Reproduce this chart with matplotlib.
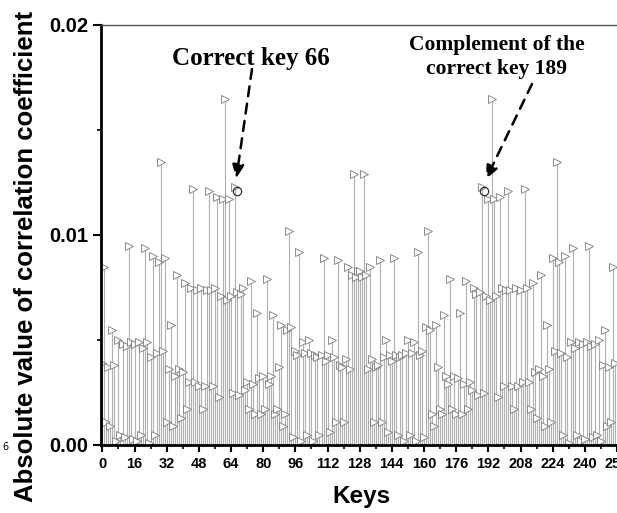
import numpy as np
import matplotlib
matplotlib.use('Agg')
import matplotlib.pyplot as plt

# absolute correlation per key guess (0..255)
keys = np.arange(256)
corr = [
    0.0039, 0.0085, 0.0011, 0.0037, 0.0009, 0.0055, 0.0038, 0.0002,
    0.0050, 0.0005, 0.0048, 0.0004, 0.0047, 0.0095, 0.0049, 0.0003,
    0.0048, 0.0002, 0.0049, 0.0005, 0.0046, 0.0094, 0.0049, 0.0001,
    0.0042, 0.0090, 0.0005, 0.0044, 0.0087, 0.0135, 0.0045, 0.0089,
    0.0011, 0.0036, 0.0057, 0.0009, 0.0033, 0.0081, 0.0036, 0.0013,
    0.0035, 0.0077, 0.0017, 0.0030, 0.0075, 0.0122, 0.0030, 0.0074,
    0.0028, 0.0075, 0.0017, 0.0028, 0.0074, 0.0121, 0.0074, 0.0028,
    0.0075, 0.0118, 0.0023, 0.0071, 0.0117, 0.0165, 0.0069, 0.0117,
    0.0071, 0.0025, 0.0123, 0.0073, 0.0024, 0.0072, 0.0075, 0.0026,
    0.0030, 0.0017, 0.0078, 0.0029, 0.0015, 0.0063, 0.0032, 0.0015,
    0.0033, 0.0017, 0.0079, 0.0029, 0.0033, 0.0062, 0.0015, 0.0017,
    0.0037, 0.0057, 0.0009, 0.0015, 0.0055, 0.0102, 0.0056, 0.0004,
    0.0045, 0.0043, 0.0092, 0.0002, 0.0049, 0.0044, 0.0005, 0.0050,
    0.0044, 0.0002, 0.0043, 0.0042, 0.0005, 0.0043, 0.0089, 0.0040,
    0.0043, 0.0006, 0.0050, 0.0042, 0.0011, 0.0088, 0.0038, 0.0037,
    0.0011, 0.0041, 0.0085, 0.0036, 0.0081, 0.0129, 0.0080, 0.0083,
    0.0083, 0.0080, 0.0129, 0.0081, 0.0036, 0.0085, 0.0041, 0.0011,
    0.0037, 0.0038, 0.0088, 0.0011, 0.0042, 0.0050, 0.0006, 0.0043,
    0.0040, 0.0089, 0.0043, 0.0005, 0.0042, 0.0043, 0.0002, 0.0044,
    0.0050, 0.0005, 0.0044, 0.0049, 0.0002, 0.0092, 0.0043, 0.0045,
    0.0004, 0.0056, 0.0102, 0.0055, 0.0015, 0.0009, 0.0057, 0.0037,
    0.0017, 0.0015, 0.0062, 0.0033, 0.0029, 0.0079, 0.0017, 0.0033,
    0.0015, 0.0032, 0.0063, 0.0015, 0.0029, 0.0078, 0.0017, 0.0030,
    0.0026, 0.0075, 0.0072, 0.0024, 0.0073, 0.0123, 0.0025, 0.0071,
    0.0117, 0.0069, 0.0165, 0.0117, 0.0071, 0.0023, 0.0118, 0.0075,
    0.0028, 0.0074, 0.0121, 0.0074, 0.0028, 0.0017, 0.0075, 0.0028,
    0.0074, 0.0030, 0.0122, 0.0075, 0.0030, 0.0017, 0.0077, 0.0035,
    0.0013, 0.0036, 0.0081, 0.0033, 0.0009, 0.0057, 0.0036, 0.0011,
    0.0089, 0.0045, 0.0135, 0.0087, 0.0044, 0.0005, 0.0090, 0.0042,
    0.0001, 0.0049, 0.0094, 0.0046, 0.0005, 0.0049, 0.0002, 0.0048,
    0.0003, 0.0049, 0.0095, 0.0047, 0.0004, 0.0048, 0.0005, 0.0050,
    0.0002, 0.0038, 0.0055, 0.0009, 0.0037, 0.0011, 0.0085, 0.0039,
]
correct_key = 66
complement_key = 189
xtick_vals = list(range(0, 257, 16))

fig = plt.figure(figsize=(6.17, 5.13), dpi=100)
ax = fig.add_axes([101 / 617, 68 / 513, 519 / 617, 420 / 513])

markerline, stemlines, baseline = ax.stem(keys, corr, basefmt=' ')
plt.setp(stemlines, color='#b0b0b0', linewidth=0.8)
plt.setp(markerline, marker='>', markersize=6, markerfacecolor='white',
         markeredgecolor='#7a7a7a', markeredgewidth=0.6, linestyle='none')
ax.axhline(0, color='#888888', lw=1.0, zorder=1)

ax.set_xlim(-0.7, 257.5)
ax.set_ylim(0, 0.02)

ax.set_yticks([0.0, 0.01, 0.02])
ax.set_yticklabels(['0.00', '0.01', '0.02'])
ax.set_yticks([0.005, 0.015], minor=True)
ax.set_xticks(xtick_vals)
ax.set_xticklabels([str(v) for v in xtick_vals])
ax.set_xticks(list(range(8, 257, 16)), minor=True)

ax.tick_params(axis='y', which='major', direction='out', length=6, width=1.5,
               labelsize=14.5, pad=3)
ax.tick_params(axis='y', which='minor', direction='out', length=3, width=1.2)
ax.tick_params(axis='x', which='major', direction='out', length=5, width=1.5,
               labelsize=10.5, pad=4)
ax.tick_params(axis='x', which='minor', direction='out', length=3, width=1.2)
for lab in ax.get_yticklabels():
    lab.set_fontweight('bold')
    lab.set_family(['Liberation Sans', 'DejaVu Sans'])
for lab in ax.get_xticklabels():
    lab.set_fontweight('bold')
    lab.set_family(['Liberation Sans Narrow', 'Liberation Sans', 'DejaVu Sans'])

ax.spines['left'].set_linewidth(2)
ax.spines['bottom'].set_linewidth(2)
ax.spines['top'].set_linewidth(1)
ax.spines['top'].set_color('#555555')
ax.spines['right'].set_visible(False)

fig.text(26 / 617, 1 - 256 / 513, 'Absolute value of correlation coefficient',
         rotation=90, ha='center', va='center', fontsize=18.5, fontweight='bold',
         family=['Liberation Sans', 'DejaVu Sans'])
fig.text(361 / 617, 1 - 497 / 513, 'Keys', ha='center', va='center',
         fontsize=17.5, fontweight='bold', family=['Liberation Sans', 'DejaVu Sans'])
fig.text(0.004, 1 - 447 / 513, '6', ha='left', va='center', fontsize=7)

# annotations
fig.text(251 / 617, 1 - 58 / 513, 'Correct key 66', ha='center', va='center',
         fontsize=18, fontweight='bold', family=['Liberation Serif', 'DejaVu Serif'])
fig.text(497 / 617, 1 - 57 / 513, 'Complement of the\ncorrect key 189',
         ha='center', va='center', fontsize=15.5, fontweight='bold',
         linespacing=1.3, family=['Liberation Serif', 'DejaVu Serif'])

arrow_kw = dict(arrowstyle='-|>,head_length=0.8,head_width=0.35', color='black',
                lw=1.8, linestyle=(0, (4, 3)), shrinkA=0, shrinkB=6)
ax.annotate('', xy=(correct_key, corr[correct_key]), xytext=(252, 444),
            textcoords='figure pixels', arrowprops=arrow_kw)
ax.annotate('', xy=(complement_key, corr[complement_key]), xytext=(532, 429),
            textcoords='figure pixels', arrowprops=arrow_kw)
ax.plot([correct_key + 1, complement_key + 1],
        [corr[correct_key] - 0.0002, corr[complement_key] - 0.0002], 'o',
        markersize=6, markerfacecolor='none', markeredgecolor='#333333',
        markeredgewidth=0.9)

fig.savefig('out.png', dpi=100)
